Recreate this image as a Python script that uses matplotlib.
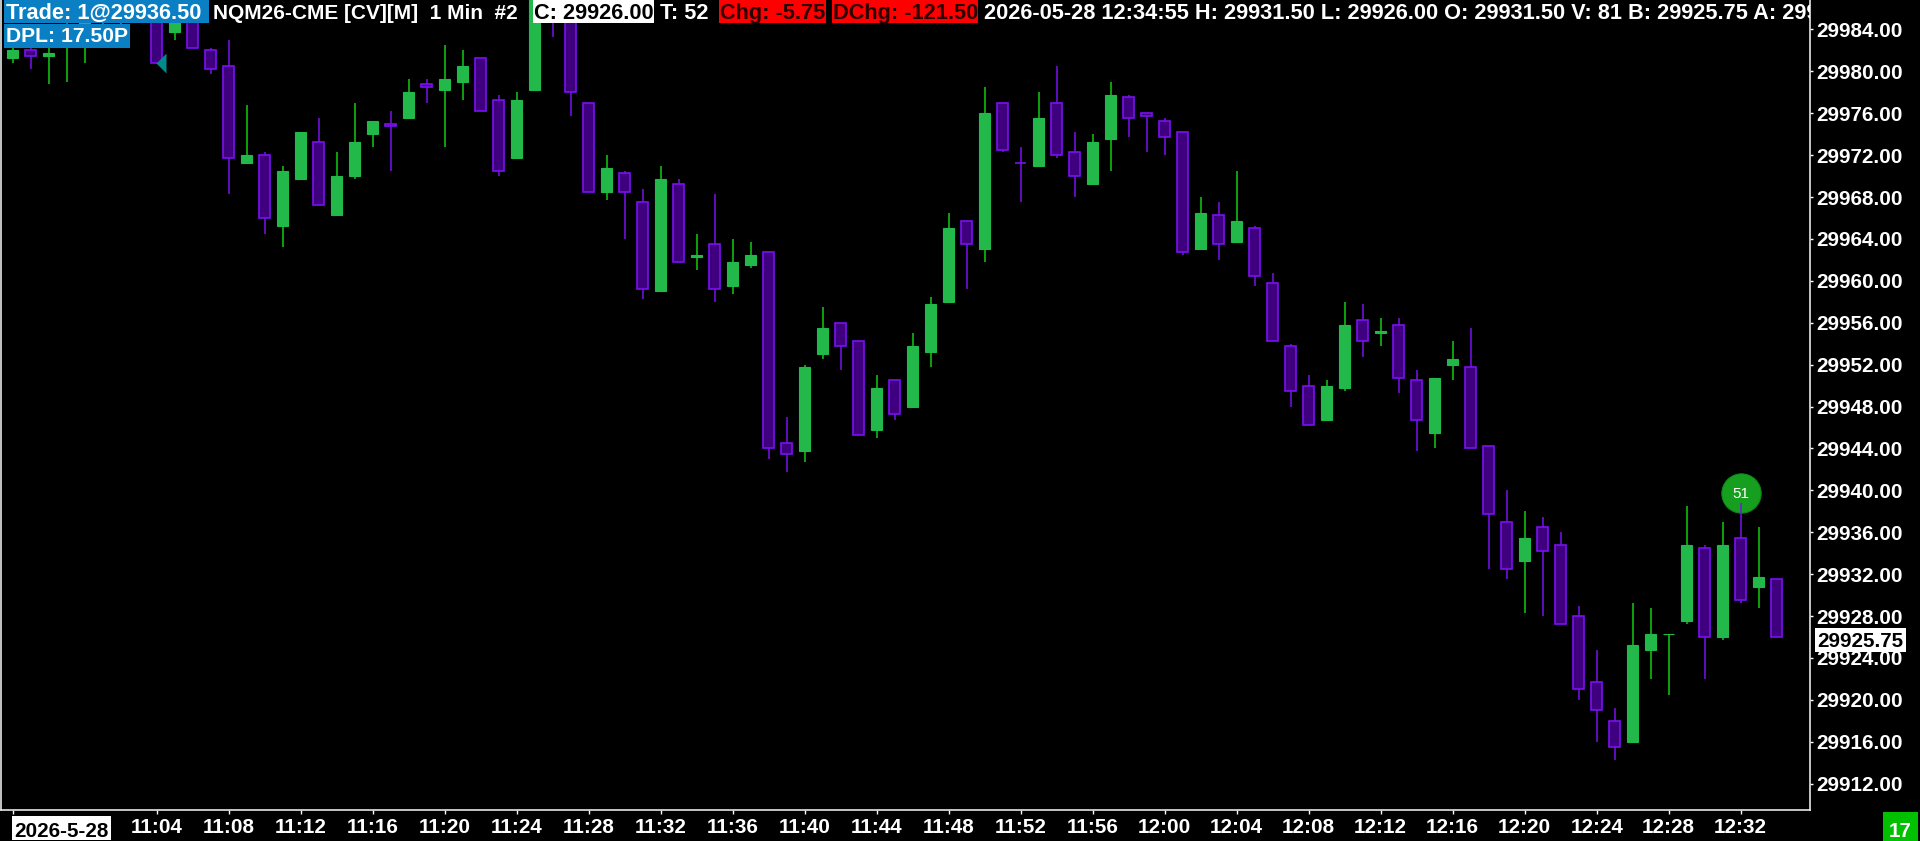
import matplotlib
matplotlib.use('Agg')
import matplotlib.pyplot as plt
from matplotlib.patches import Rectangle
from matplotlib.transforms import Affine2D
import numpy as np
import pandas as pd

# ---------------- data ----------------
opens = [29981.25, 29982.0, 29981.5, 29982.5, 29983.5, 29984.75, 29985.75, 29986.5, 29987.25, 29983.75,
         29986.5, 29982.0, 29980.5, 29971.25, 29972.0, 29965.25, 29969.75, 29973.25, 29966.25, 29970.0,
         29974.0, 29975.0, 29975.5, 29978.75, 29978.25, 29979.0, 29981.25, 29977.25, 29971.75, 29978.25,
         29988.0, 29986.75, 29977.0, 29968.5, 29970.25, 29967.5, 29959.0, 29969.25, 29962.25, 29963.5,
         29959.5, 29961.5, 29962.75, 29944.5, 29943.75, 29953.0, 29956.0, 29954.25, 29945.75, 29950.5,
         29948.0, 29953.25, 29958.0, 29965.75, 29963.0, 29977.0, 29971.25, 29971.0, 29977.0, 29972.25,
         29969.25, 29973.5, 29977.5, 29976.0, 29975.25, 29974.25, 29963.0, 29966.25, 29963.75, 29965.0,
         29959.75, 29953.75, 29950.0, 29946.75, 29949.75, 29956.25, 29955.0, 29955.75, 29950.5, 29945.5,
         29952.0, 29951.75, 29944.25, 29937.0, 29933.25, 29936.5, 29934.75, 29928.0, 29921.75, 29918.0,
         29916.0, 29924.75, 29926.25, 29927.5, 29934.5, 29926.0, 29935.5, 29930.75, 29931.5]
highs = [29982.5, 29982.25, 29982.25, 29985.0, 29985.5, 29986.5, 29987.0, 29988.0, 29988.0, 29986.0,
         29987.0, 29982.25, 29983.0, 29976.75, 29972.25, 29971.0, 29974.25, 29975.5, 29972.25, 29977.0,
         29975.25, 29976.25, 29979.25, 29979.25, 29982.5, 29982.0, 29981.25, 29977.75, 29978.0, 29988.0,
         29988.5, 29987.5, 29977.0, 29972.0, 29970.5, 29968.75, 29971.0, 29969.75, 29964.5, 29968.25,
         29964.0, 29963.75, 29962.75, 29947.0, 29952.0, 29957.5, 29956.0, 29954.25, 29951.0, 29950.5,
         29955.0, 29958.5, 29966.5, 29965.75, 29978.5, 29977.0, 29972.75, 29978.0, 29980.5, 29974.25,
         29974.0, 29979.0, 29977.75, 29976.0, 29975.5, 29974.25, 29968.0, 29967.5, 29970.5, 29965.25,
         29960.75, 29954.0, 29951.0, 29950.5, 29958.0, 29957.75, 29956.5, 29956.5, 29951.5, 29950.75,
         29954.25, 29955.5, 29944.25, 29940.0, 29938.0, 29937.5, 29936.0, 29929.0, 29924.75, 29919.25,
         29929.25, 29928.75, 29926.25, 29938.5, 29934.75, 29937.0, 29938.75, 29936.5, 29931.5]
lows = [29980.75, 29980.25, 29978.75, 29979.0, 29980.75, 29983.0, 29984.5, 29985.0, 29980.75, 29983.0,
        29982.25, 29979.75, 29968.25, 29971.25, 29964.5, 29963.25, 29969.75, 29967.25, 29966.25, 29969.75,
        29972.75, 29970.5, 29975.5, 29977.0, 29972.75, 29977.25, 29976.25, 29970.0, 29971.75, 29978.25,
        29983.25, 29975.75, 29968.5, 29967.75, 29964.0, 29958.25, 29959.0, 29961.75, 29961.0, 29958.0,
        29958.75, 29961.25, 29943.0, 29941.75, 29942.75, 29952.5, 29951.5, 29945.25, 29945.0, 29946.75,
        29948.0, 29951.75, 29958.0, 29959.25, 29961.75, 29972.25, 29967.5, 29971.0, 29971.75, 29968.0,
        29969.25, 29970.5, 29973.75, 29972.25, 29972.0, 29962.5, 29963.0, 29962.0, 29963.75, 29959.5,
        29954.25, 29948.0, 29946.25, 29946.75, 29949.5, 29952.75, 29953.75, 29949.25, 29943.75, 29944.0,
        29950.5, 29944.0, 29932.5, 29931.5, 29928.25, 29928.0, 29927.25, 29920.0, 29916.0, 29914.25,
        29916.0, 29922.0, 29920.5, 29927.25, 29922.0, 29925.75, 29929.25, 29928.75, 29926.0]
closes = [29982.0, 29981.5, 29981.75, 29983.5, 29984.75, 29985.75, 29986.5, 29987.5, 29980.75, 29985.75,
          29982.25, 29980.25, 29971.75, 29972.0, 29966.0, 29970.5, 29974.25, 29967.25, 29970.0, 29973.25,
          29975.25, 29974.75, 29978.0, 29978.5, 29979.25, 29980.5, 29976.25, 29970.5, 29977.25, 29987.5,
          29986.25, 29978.0, 29968.5, 29970.75, 29968.5, 29959.25, 29969.75, 29961.75, 29962.5, 29959.25,
          29961.75, 29962.5, 29944.0, 29943.5, 29951.75, 29955.5, 29953.75, 29945.25, 29949.75, 29947.25,
          29953.75, 29957.75, 29965.0, 29963.5, 29976.0, 29972.5, 29971.25, 29975.5, 29972.0, 29970.0,
          29973.25, 29977.75, 29975.5, 29975.75, 29973.75, 29962.75, 29966.5, 29963.5, 29965.75, 29960.5,
          29954.25, 29949.5, 29946.25, 29950.0, 29955.75, 29954.25, 29955.25, 29950.75, 29946.75, 29950.75,
          29952.5, 29944.0, 29937.75, 29932.5, 29935.5, 29934.25, 29927.25, 29921.0, 29919.0, 29915.5,
          29925.25, 29926.25, 29926.25, 29934.75, 29926.0, 29934.75, 29929.5, 29931.75, 29926.0]

first_bar = '2026-05-28 10:56'
x_tick_labels = ['11:04', '11:08', '11:12', '11:16', '11:20', '11:24', '11:28', '11:32', '11:36',
                 '11:40', '11:44', '11:48', '11:52', '11:56', '12:00', '12:04', '12:08', '12:12',
                 '12:16', '12:20', '12:24', '12:28', '12:32']
y_ticks = [29912, 29916, 29920, 29924, 29928, 29932, 29936, 29940, 29944, 29948, 29952, 29956,
           29960, 29964, 29968, 29972, 29976, 29980, 29984]
date_label = '2026-5-28'
bid_price = 29925.75
circle_time, circle_price, circle_text = '12:32', 29939.75, '51'
marker_time, marker_price = '11:04', 29980.75
count_text = '17'

header_items = [
    ('Trade: 1@29936.50', 'box'),
    ('NQM26-CME [CV][M]  1 Min  #2', 'plain'),
    ('C: 29926.00', 'white'),
    ('T: 52', 'plain'),
    ('Chg: -5.75', 'red'),
    ('DChg: -121.50', 'red'),
    ('2026-05-28 12:34:55 H: 29931.50 L: 29926.00 O: 29931.50 V: 81 B: 29925.75 A: 29926.00', 'plain'),
]
dpl_text = 'DPL: 17.50P'

# ---------------- style ----------------
W, H = 1920, 841
FONT = ['Liberation Sans', 'DejaVu Sans']
FS = 14.9
HFS = 15.7
UP_BODY = '#22b94a'
UP_WICK = '#10cc10'
DN_FILL = '#3f0080'
DN_EDGE = '#7a10f2'
BLUE = '#0a7fc3'
RED = '#ff0000'

plt.rcParams['font.family'] = FONT

fig = plt.figure(figsize=(W / 100, H / 100), dpi=100, facecolor='black')
ax = fig.add_axes([1 / W, 31 / H, 1809 / W, 810 / H])
ax.set_facecolor('black')

times = pd.date_range(first_bar, periods=len(opens), freq='1min').strftime('%H:%M').tolist()
x = np.arange(len(opens))
o = np.array(opens); h = np.array(highs); l = np.array(lows); c = np.array(closes)
prev = np.r_[c[0], c[:-1]]
up = (c > o) | ((c == o) & (c >= prev))
dn = ~up

ax.vlines(x[up], l[up], h[up], color=UP_WICK, lw=1.1, zorder=2)
ax.vlines(x[dn], l[dn], h[dn], color=DN_EDGE, lw=1.1, zorder=2)
ax.bar(x[up], c[up] - o[up], bottom=o[up], width=0.61, color=UP_BODY, edgecolor=UP_BODY,
       lw=0.8, zorder=3)
ax.bar(x[dn], o[dn] - c[dn], bottom=c[dn], width=0.61, color=DN_FILL, edgecolor=DN_EDGE,
       lw=1.2, zorder=3)

# circle marker
ci = times.index(circle_time)
ax.scatter([ci], [circle_price], s=800, color='#169e1f', edgecolor='#0f8a18', lw=0.8, zorder=1.5)
ax.text(ci, circle_price, circle_text, color='white', fontsize=11, ha='center',
        va='center_baseline', zorder=6)

# teal triangle marker
mi = times.index(marker_time)
ax.scatter([mi + 0.52], [marker_price], marker=[(-1, 0), (0, 1), (0, -1)], s=207,
           color='#008a8a', lw=0, zorder=4)

ax.set_xlim(-0.65, 99.85)
ax.set_ylim(29909.49, 29986.806)

for s in ['left', 'bottom', 'right']:
    ax.spines[s].set_color('#e6e6e6')
    ax.spines[s].set_linewidth(1.2)
ax.spines['top'].set_visible(False)

ax.yaxis.tick_right()
ax.set_yticks(y_ticks)
ax.set_yticklabels([f'{v:.2f}' for v in y_ticks])
ax.tick_params(axis='y', colors='white', length=2.4, width=1, pad=2.0, labelsize=FS)
for t in ax.get_yticklabels():
    t.set_fontweight('bold')

xt = [0] + [times.index(s) for s in x_tick_labels]
ax.set_xticks(xt)
ax.set_xticklabels([''] + x_tick_labels)
ax.tick_params(axis='x', colors='white', length=3, width=1, pad=2.8, labelsize=FS)
for t in ax.get_xticklabels():
    t.set_fontweight('bold')

# ---------------- overlays (pixel coords, y from top) ----------------
TP = Affine2D().scale(1 / W, -1 / H).translate(0, 1) + fig.transFigure


def box(x0, y0, x1, y1, color, z=10):
    fig.add_artist(Rectangle((x0, y0), x1 - x0, y1 - y0, transform=TP, facecolor=color,
                             edgecolor='none', zorder=z))


def txt(xp, yp, s, color, ha='left', clip=False, size=FS):
    t = fig.text(xp, yp, s, transform=TP, color=color, fontsize=size, fontweight='bold',
                 ha=ha, va='baseline', zorder=11)
    if clip:
        t.set_clip_box(ax.bbox)
        t.set_clip_on(True)
    return t


hx = [(4, 209), (213, 528), (533, 654), (660, None), (719, 826), (832, 978), (984, None)]
for (s, kind), (x0, x1) in zip(header_items, hx):
    if kind == 'box':
        box(x0, 0, x1, 23.5, BLUE)
        txt(x0 + 2, 18.6, s, 'white', size=HFS)
    elif kind == 'white':
        box(x0, 0, x1, 23.5, 'white')
        txt(x0 + 1, 18.6, s, 'black', size=HFS)
    elif kind == 'red':
        box(x0, 0, x1, 23.5, RED)
        txt(x0 + 1, 18.6, s, '#2a0000', size=HFS)
    elif x1 is not None:
        txt(x0, 18.6, s, 'white', size=15.0)
    else:
        txt(x0, 18.6, s, 'white', clip=True, size=HFS)

box(4, 23.5, 130, 47.5, BLUE)
txt(6, 42.5, dpl_text, 'white', size=15.2)

# date label
box(12, 816, 111, 840, 'white')
txt(61.5, 837.5, date_label, 'black', ha='center')

# bid price label
by = 29.6 + (29984 - bid_price) * 10.477
box(1815, by - 12, 1906, by + 12, 'white')
txt(1860.5, by + 7.3, f'{bid_price:.2f}', 'black', ha='center')

# count box
box(1883, 812, 1918, 841, '#00c000')
txt(1900.5, 837.5, count_text, 'white', ha='center')

fig.savefig('out.png', dpi=100, facecolor='black')
